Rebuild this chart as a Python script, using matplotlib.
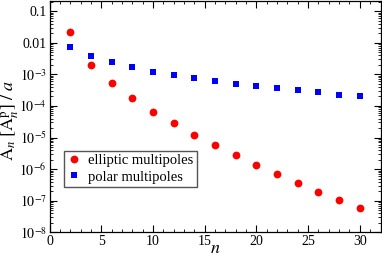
import matplotlib
matplotlib.use('Agg')
import matplotlib.pyplot as plt
from matplotlib.ticker import MultipleLocator, LogLocator, FixedLocator, FixedFormatter, NullFormatter

plt.rcParams['font.family'] = ['Liberation Serif', 'DejaVu Serif']
plt.rcParams['mathtext.fontset'] = 'stix'

# Data
n = [2, 4, 6, 8, 10, 12, 14, 16, 18, 20, 22, 24, 26, 28, 30]
elliptic = [2.2e-2, 2.0e-3, 5.5e-4, 1.75e-4, 6.6e-5, 2.8e-5, 1.24e-5, 5.7e-6,
            2.8e-6, 1.4e-6, 7.1e-7, 3.7e-7, 1.95e-7, 1.05e-7, 5.7e-8]
polar = [7.5e-3, 3.8e-3, 2.4e-3, 1.67e-3, 1.22e-3, 9.3e-4, 7.5e-4, 6.0e-4,
         5.1e-4, 4.2e-4, 3.6e-4, 3.1e-4, 2.7e-4, 2.3e-4, 2.0e-4]

ytick_vals = [1e-1, 1e-2, 1e-3, 1e-4, 1e-5, 1e-6, 1e-7, 1e-8]
ytick_labels = ['0.1', '0.01', r'$10^{-3}$', r'$10^{-4}$', r'$10^{-5}$',
                r'$10^{-6}$', r'$10^{-7}$', r'$10^{-8}$']

fig = plt.figure(figsize=(3.82, 2.56), dpi=100)
ax = fig.add_axes([0.1296, 0.0926, 0.8665, 0.9035])

ax.semilogy(n, elliptic, 'o', color='#ff0000', markersize=5.6, markeredgewidth=0,
            label='elliptic multipoles')
ax.semilogy(n, polar, 's', color='#0000ff', markersize=4.8, markeredgewidth=0,
            label='polar multipoles')

ax.set_xlim(0, 32)
ax.set_ylim(1e-8, 0.21)

ax.xaxis.set_major_locator(MultipleLocator(5))
ax.xaxis.set_minor_locator(MultipleLocator(1))
ax.yaxis.set_major_locator(FixedLocator(ytick_vals))
ax.yaxis.set_major_formatter(FixedFormatter(ytick_labels))
ax.yaxis.set_minor_locator(LogLocator(base=10, subs=range(2, 10), numticks=20))
ax.yaxis.set_minor_formatter(NullFormatter())

ax.tick_params(which='both', direction='in', top=True, right=True, labelsize=10, pad=2)
ax.tick_params(which='major', length=5, width=0.8)
ax.tick_params(which='minor', length=2.5, width=0.6)

for s in ax.spines.values():
    s.set_linewidth(0.9)

ax.set_xlabel(r'$n$', fontsize=13, va='center')
ax.xaxis.set_label_coords(0.5, -0.068)
ax.set_ylabel(r'$\mathrm{A}_n\ [\mathrm{A}_n^{\mathrm{p}}]\ /\ a$', fontsize=13, va='center')
ax.yaxis.set_label_coords(-0.118, 0.486)

ax.legend(loc='lower left', bbox_to_anchor=(0.045, 0.195), fontsize=10.5,
          fancybox=False, edgecolor='#555555', framealpha=1, handlelength=0.8,
          handletextpad=0.6, borderpad=0.25, labelspacing=0.2, borderaxespad=0)

fig.savefig('out.png', dpi=100)
